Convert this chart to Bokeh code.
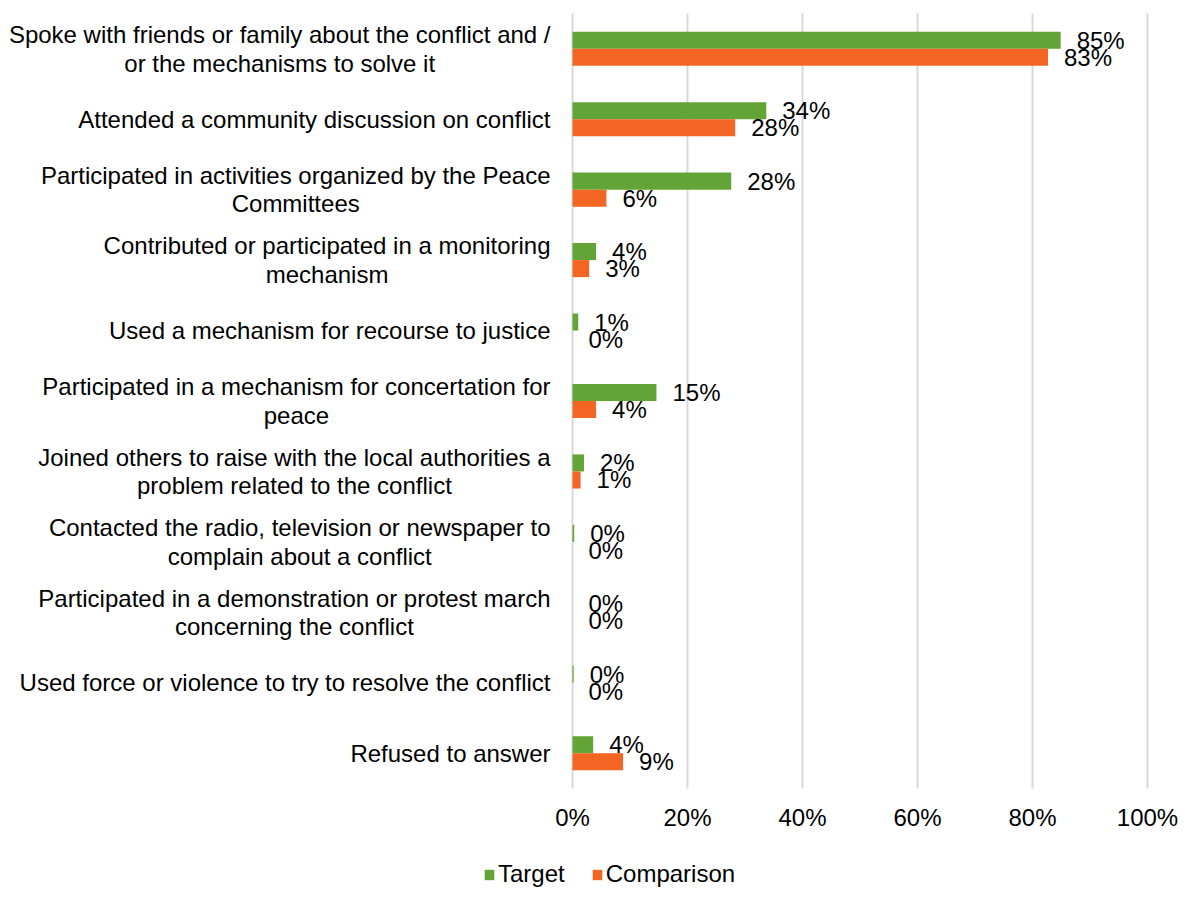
from bokeh.plotting import figure
from bokeh.models import (ColumnDataSource, Range1d, FixedTicker,
                          LabelSet, Legend, LegendItem)
from bokeh.core.properties import value
from bokeh.embed import file_html
from bokeh.resources import INLINE

categories = [
    "Spoke with friends or family about the conflict and /\nor the mechanisms to solve it",
    "Attended a community discussion on conflict",
    "Participated in activities organized by the Peace\nCommittees",
    "Contributed or participated in a monitoring\nmechanism",
    "Used a mechanism for recourse to justice",
    "Participated in a mechanism for concertation for\npeace",
    "Joined others to raise with the local authorities a\nproblem related to the conflict",
    "Contacted the radio, television or newspaper to\ncomplain about a conflict",
    "Participated in a demonstration or protest march\nconcerning the conflict",
    "Used force or violence to try to resolve the conflict",
    "Refused to answer",
]
target = [84.9, 33.7, 27.6, 4.1, 1.0, 14.6, 2.0, 0.3, 0.0, 0.2, 3.6]
comparison = [82.7, 28.3, 5.9, 2.9, 0.0, 4.1, 1.4, 0.0, 0.0, 0.0, 8.8]
series_names = ["Target", "Comparison"]
x_ticks = [0, 20, 40, 60, 80, 100]
x_tick_labels = ["0%", "20%", "40%", "60%", "80%", "100%"]

GREEN = "#62a536"
ORANGE = "#f26522"
GRID = "#d9d9d9"
FONT = "Liberation Sans"
TEXT = "#000000"
FS = 24  # px

# Arial / Liberation Sans advance widths (1/1000 em), used to centre wrapped lines
_W = {' ': 278, ',': 278, '/': 278, '.': 278,
      'a': 556, 'b': 556, 'c': 500, 'd': 556, 'e': 556, 'f': 278, 'g': 556, 'h': 556,
      'i': 222, 'j': 222, 'k': 500, 'l': 222, 'm': 833, 'n': 556, 'o': 556, 'p': 556,
      'q': 556, 'r': 333, 's': 500, 't': 278, 'u': 556, 'v': 500, 'w': 722, 'x': 500,
      'y': 500, 'z': 500,
      'A': 667, 'B': 667, 'C': 722, 'D': 722, 'E': 667, 'F': 611, 'G': 778, 'H': 722,
      'I': 278, 'J': 500, 'K': 667, 'L': 556, 'M': 833, 'N': 722, 'O': 778, 'P': 667,
      'Q': 778, 'R': 722, 'S': 667, 'T': 611, 'U': 722, 'V': 667, 'W': 944, 'X': 667,
      'Y': 667, 'Z': 611}


def text_width(s):
    return sum(_W.get(ch, 556) for ch in s) / 1000.0 * FS


# layout (pixels) -- the plot frame covers the whole canvas
FIG_W, FIG_H = 1179, 888
ZERO_X = 572      # where 0 % sits
FULL_X = 1147     # where 100 % sits
TOP, BOTTOM = 13, 788   # extent of the category band
LABEL_GAP = 22

n = len(categories)
px_x = (FULL_X - ZERO_X) / 100.0
x_start = -ZERO_X / px_x
x_end = 100 + (FIG_W - FULL_X) / px_x

px_y = (BOTTOM - TOP) / n
row_lo, row_hi = -0.5, n - 0.5
y_start = row_lo - (FIG_H - BOTTOM) / px_y
y_end = row_hi + TOP / px_y

rows = [n - 1 - i for i in range(n)]      # first category on top
off = 0.121
bh = 0.242

label_offsets = [-LABEL_GAP - max(text_width(l) for l in c.split("\n")) / 2.0
                 for c in categories]

src = ColumnDataSource(dict(
    cat=categories,
    row=rows,
    row_t=[r + off for r in rows],
    row_c=[r - off for r in rows],
    target=target,
    comparison=comparison,
    target_lbl=[f"{round(v)}%" for v in target],
    comparison_lbl=[f"{round(v)}%" for v in comparison],
    zero=[0] * n,
    lbl_off=label_offsets,
))

p = figure(width=FIG_W, height=FIG_H,
           x_range=Range1d(x_start, x_end),
           y_range=Range1d(y_start, y_end),
           y_axis_location=None,
           output_backend="svg", toolbar_location=None,
           min_border=0, min_border_left=0, min_border_right=0,
           min_border_top=0, min_border_bottom=0)

# vertical gridlines, limited to the category band
p.segment(x0=x_ticks, y0=[row_lo] * len(x_ticks), x1=x_ticks, y1=[row_hi] * len(x_ticks),
          line_color=GRID, line_width=2)

r1 = p.hbar(y="row_t", left=0, right="target", height=bh,
            fill_color=GREEN, line_color=None, source=src)
r2 = p.hbar(y="row_c", left=0, right="comparison", height=bh,
            fill_color=ORANGE, line_color=None, source=src)

# category labels (right-aligned block, lines centred within the block)
p.text(x="zero", y="row", text="cat", x_offset="lbl_off", source=src,
       text_align="center", text_baseline="middle",
       text_font=value(FONT), text_font_size=f"{FS}px", text_color=TEXT,
       text_line_height=1.06)

for col, ycol in (("target", "row_t"), ("comparison", "row_c")):
    p.add_layout(LabelSet(x=col, y=ycol, text=col + "_lbl",
                          x_offset=16, y_offset=0, text_baseline="middle",
                          text_font_size=f"{FS}px", text_font=value(FONT),
                          text_color=TEXT, source=src))

p.outline_line_color = None
p.xgrid.grid_line_color = None
p.ygrid.grid_line_color = None

xa = p.xaxis[0]
xa.fixed_location = row_lo
xa.ticker = FixedTicker(ticks=x_ticks)
xa.major_label_overrides = {t: l for t, l in zip(x_ticks, x_tick_labels)}
xa.axis_line_color = None
xa.major_tick_line_color = None
xa.minor_tick_line_color = None
xa.major_tick_out = 0
xa.major_tick_in = 0
xa.major_label_standoff = 15
xa.major_label_text_font_size = f"{FS}px"
xa.major_label_text_font = FONT
xa.major_label_text_color = TEXT

legend = Legend(items=[LegendItem(label=series_names[0], renderers=[r1]),
                       LegendItem(label=series_names[1], renderers=[r2])],
                location=(483, 0), orientation="horizontal",
                padding=0, margin=0, spacing=26, label_standoff=3,
                glyph_width=12, glyph_height=13,
                label_text_font_size=f"{FS}px", label_text_font=FONT,
                label_text_color=TEXT,
                border_line_color=None, background_fill_alpha=0)
p.add_layout(legend, "center")

open("out.html", "w").write(file_html(p, INLINE))
